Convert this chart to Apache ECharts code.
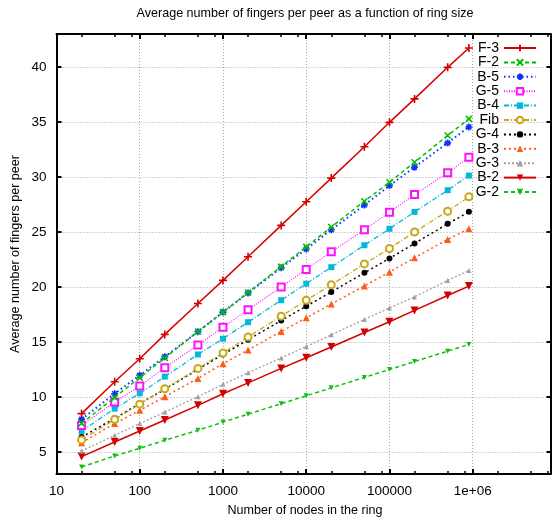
<!DOCTYPE html>
<html><head><meta charset="utf-8">
<script src="https://cdn.jsdelivr.net/npm/echarts@6/dist/echarts.min.js"></script>
<style>html,body{margin:0;padding:0;background:#fff}#c{width:553px;height:521px}</style>
</head><body><div id="c"></div>
<script>
// ring sizes (x values)
const nodes = [20, 50, 100, 200, 500, 1000, 2000, 5000, 10000, 20000, 50000, 100000, 200000, 500000, 900000];
// average fingers per peer for each scheme
const F3  = [8.49, 11.39, 13.48, 15.69, 18.50, 20.60, 22.75, 25.60, 27.75, 29.90, 32.75, 34.97, 37.10, 39.97, 41.73];
const F2  = [7.60, 9.97, 11.76, 13.55, 15.95, 17.71, 19.50, 21.85, 23.65, 25.45, 27.80, 29.52, 31.34, 33.77, 35.28];
const B5  = [7.97, 10.30, 11.97, 13.66, 15.93, 17.72, 19.45, 21.75, 23.45, 25.20, 27.45, 29.22, 30.89, 33.10, 34.55];
const G5  = [7.42, 9.54, 10.99, 12.67, 14.72, 16.35, 17.93, 20.00, 21.60, 23.20, 25.20, 26.80, 28.40, 30.38, 31.80];
const B4  = [6.90, 8.94, 10.33, 11.85, 13.87, 15.30, 16.80, 18.80, 20.30, 21.80, 23.80, 25.29, 26.83, 28.80, 30.13];
const Fib = [6.10, 7.95, 9.35, 10.75, 12.60, 14.00, 15.45, 17.35, 18.80, 20.20, 22.10, 23.50, 25.00, 26.89, 28.20];
const G4  = [6.36, 8.06, 9.40, 10.70, 12.51, 13.87, 15.20, 16.95, 18.25, 19.55, 21.30, 22.60, 23.96, 25.74, 26.83];
const B3  = [5.85, 7.58, 8.79, 10.03, 11.69, 13.03, 14.28, 15.95, 17.20, 18.45, 20.10, 21.35, 22.66, 24.32, 25.30];
const G3  = [5.09, 6.52, 7.58, 8.63, 10.03, 11.15, 12.20, 13.55, 14.60, 15.65, 17.05, 18.10, 19.10, 20.60, 21.50];
const B2  = [4.58, 5.91, 6.91, 7.91, 9.24, 10.30, 11.28, 12.60, 13.57, 14.55, 15.86, 16.84, 17.87, 19.23, 20.08];
const G2  = [3.64, 4.64, 5.34, 6.06, 6.97, 7.72, 8.44, 9.39, 10.11, 10.83, 11.78, 12.50, 13.22, 14.17, 14.78];

const seriesNames = ['F-3', 'F-2', 'B-5', 'G-5', 'B-4', 'Fib', 'G-4', 'B-3', 'G-3', 'B-2', 'G-2'];
const seriesValues = [F3, F2, B5, G5, B4, Fib, G4, B3, G3, B2, G2];

// tick values
const xMajorTicks = [10, 100, 1000, 10000, 100000, 1000000];
const xMinorTicks = [20, 50, 80, 200, 500, 800, 2000, 5000, 8000, 20000, 50000, 80000,
                     200000, 500000, 800000, 2000000, 5000000, 8000000];
const yTicks = [5, 10, 15, 20, 25, 30, 35, 40];

const titleText = 'Average number of fingers per peer as a function of ring size';
const xName = 'Number of nodes in the ring';
const yName = 'Average number of fingers per peer';

const FONT = '"Liberation Sans Narrow", "Arial Narrow", "Liberation Sans", sans-serif';
const PLUS = 'path://M0,5L10,5M5,0L5,10';
const CROSS = 'path://M0,0L10,10M10,0L0,10';
const STAR = 'path://M0,5L10,5M5,0L5,10M1.5,1.5L8.5,8.5M8.5,1.5L1.5,8.5';

const styles = [
  {color: '#d40000', dash: 'solid', w: 1.5, symbol: PLUS, size: 8, stroke: true},
  {color: '#00c000', dash: [4, 3], w: 1.5, symbol: CROSS, size: 6, stroke: true},
  {color: '#1030ff', dash: [1.5, 3], w: 2, symbol: STAR, size: 7, stroke: true},
  {color: '#ff10ff', dash: [1, 1.5], w: 1.2, symbol: 'emptyRect', size: 7, bw: 1.5},
  {color: '#00b8d8', dash: [5, 2, 1, 2], w: 1.3, symbol: 'rect', size: 6},
  {color: '#c8a818', dash: [5, 2, 1, 2], w: 1.3, symbol: 'emptyCircle', size: 7, bw: 1.5},
  {color: '#000000', dash: [2, 3], w: 1.5, symbol: 'circle', size: 6},
  {color: '#ff5a1a', dash: [2, 3], w: 1.5, symbol: 'triangle', size: 7},
  {color: '#a0a0a0', dash: [2, 2], w: 1.3, symbol: 'triangle', size: 5},
  {color: '#d40000', dash: 'solid', w: 1.5, symbol: 'triangle', size: 8, rot: 180},
  {color: '#10c010', dash: [4, 3], w: 1.5, symbol: 'triangle', size: 5, rot: 180}
];

const series = seriesNames.map((name, i) => {
  const s = styles[i];
  const itemStyle = {color: s.color};
  if (s.stroke) { itemStyle.borderColor = s.color; itemStyle.borderWidth = 1.6; }
  if (s.bw) { itemStyle.borderColor = s.color; itemStyle.borderWidth = s.bw; }
  return {
    name: name,
    type: 'line',
    xAxisIndex: 0, yAxisIndex: 0,
    data: nodes.map((n, k) => [n, seriesValues[i][k]]),
    symbol: s.symbol,
    symbolSize: s.size,
    symbolRotate: s.rot || 0,
    showAllSymbol: true,
    lineStyle: {color: s.color, width: s.w, type: s.dash},
    itemStyle: itemStyle,
    z: 20 - i,
    animation: false
  };
});

const gridLine = {show: true, lineStyle: {color: '#a8a8a8', width: 1, type: [1, 2]}};
const black = {color: '#000', width: 2};

const option = {
  backgroundColor: '#fff',
  animation: false,
  textStyle: {fontFamily: FONT},
  grid: {left: 56.5, right: 2.5, top: 34, bottom: 47, containLabel: false},
  legend: {
    orient: 'vertical', align: 'right', right: 11, top: 36,
    itemWidth: 32, itemHeight: 8, itemGap: 0.4,
    textStyle: {fontFamily: FONT, fontSize: 14, color: '#000', lineHeight: 14},
    data: seriesNames
  },
  xAxis: [
    {type: 'log', logBase: 10, min: 10, max: 8600000, position: 'bottom',
     axisLine: {show: true, lineStyle: black},
     axisTick: {show: true, inside: true, length: 5, lineStyle: black, customValues: xMajorTicks},
     axisLabel: {show: true, margin: 10, fontSize: 13.5, color: '#000', fontFamily: FONT,
       customValues: xMajorTicks,
       formatter: v => (v >= 1000000 ? '1e+06' : String(Math.round(v)))},
     splitLine: gridLine, minorTick: {show: false}},
    {type: 'log', logBase: 10, min: 10, max: 8600000, position: 'bottom',
     axisLine: {show: false},
     axisTick: {show: true, inside: true, length: 3, lineStyle: {color: '#000', width: 1.5}, customValues: xMinorTicks},
     axisLabel: {show: false}, splitLine: {show: false}},
    {type: 'log', logBase: 10, min: 10, max: 8600000, position: 'top',
     axisLine: {show: true, lineStyle: black},
     axisTick: {show: true, inside: true, length: 5, lineStyle: black, customValues: xMajorTicks},
     axisLabel: {show: false}, splitLine: {show: false}},
    {type: 'log', logBase: 10, min: 10, max: 8600000, position: 'top',
     axisLine: {show: false},
     axisTick: {show: true, inside: true, length: 3, lineStyle: {color: '#000', width: 1.5}, customValues: xMinorTicks},
     axisLabel: {show: false}, splitLine: {show: false}}
  ],
  yAxis: [
    {type: 'value', min: 3, max: 43, position: 'left',
     axisLine: {show: true, lineStyle: black},
     axisTick: {show: true, inside: true, length: 5, lineStyle: black, customValues: yTicks},
     axisLabel: {show: true, margin: 10, fontSize: 13.5, color: '#000', fontFamily: FONT, customValues: yTicks},
     splitLine: gridLine},
    {type: 'value', min: 3, max: 43, position: 'right',
     axisLine: {show: true, lineStyle: black},
     axisTick: {show: true, inside: true, length: 4, lineStyle: black, customValues: yTicks},
     axisLabel: {show: false}, splitLine: {show: false}}
  ],
  graphic: [
    {type: 'text', x: 305, y: 13, scaleX: 0.93,
     style: {text: titleText, font: '13.5px ' + FONT, fill: '#000', textAlign: 'center', textVerticalAlign: 'middle'}},
    {type: 'text', x: 305, y: 510, scaleX: 0.93,
     style: {text: xName, font: '13.5px ' + FONT, fill: '#000', textAlign: 'center', textVerticalAlign: 'middle'}},
    {type: 'text', x: 15, y: 254, rotation: Math.PI / 2, scaleX: 0.93,
     style: {text: yName, font: '13.5px ' + FONT, fill: '#000', textAlign: 'center', textVerticalAlign: 'middle'}}
  ],
  series: series
};

const chart = echarts.init(document.getElementById('c'), null, {renderer: 'canvas'});
chart.setOption(option);
</script>
</body></html>
